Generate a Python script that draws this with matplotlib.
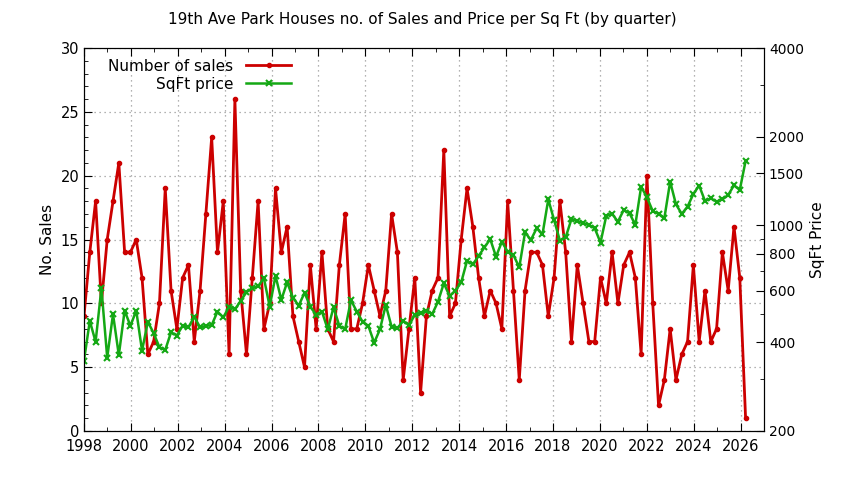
import numpy as np
import matplotlib
matplotlib.use("Agg")
import matplotlib.pyplot as plt
from matplotlib.ticker import FixedLocator, NullFormatter, MultipleLocator

sales = [9,14,18,10,15,18,21,14,14,15,12,6,7,10,19,11,8,12,13,7,11,17,23,14,18,6,26,11,6,12,18,
         8,10,19,14,16,9,7,5,13,8,14,8,7,13,17,8,8,10,13,11,9,11,17,14,4,8,12,3,
         9,11,12,22,9,10,15,19,16,12,9,11,10,8,18,11,4,11,14,14,13,9,12,18,14,7,13,10,7,7,
         12,10,14,10,13,14,12,6,20,10,2,4,8,4,6,7,13,7,11,7,8,14,11,16,12,1]
price = [347,473,402,611,355,499,362,513,455,513,375,470,430,385,377,433,422,456,450,489,450,455,458,509,486,529,518,553,593,611,620,
         661,529,673,558,640,568,533,590,529,496,509,443,526,455,443,557,509,470,455,399,443,536,452,446,473,458,496,505,
         513,499,550,635,575,600,640,757,736,787,841,897,782,879,813,792,719,946,891,977,931,1224,1042,887,910,1050,1033,1016,1003,977,
         873,1078,1093,1028,1127,1098,1003,1352,1244,1117,1093,1056,1406,1178,1093,1157,1277,1364,1209,1234,1203,1224,1267,1367,1318,1653]
start_year = 1998
quarter_step = 0.2475
years = start_year + np.arange(len(sales)) * quarter_step

red = "#cc0000"
green = "#14a814"

fig = plt.figure(figsize=(8.44, 4.80), dpi=100)
ax = fig.add_axes([84/844, 1-431/480, (764-84)/844, (431-48)/480])
ax2 = ax.twinx()

l1, = ax.plot(years, sales, color=red, lw=2, marker='o', ms=3, label="Number of sales")
l2, = ax2.plot(years, price, color=green, lw=1.8, marker='x', ms=4, mew=1.5, label="SqFt price")

ax.set_xlim(1998, 2027)
ax.set_ylim(0, 30)
ax.xaxis.set_major_locator(MultipleLocator(2))
ax.xaxis.set_minor_locator(MultipleLocator(1))
ax.yaxis.set_major_locator(MultipleLocator(5))
ax.yaxis.set_minor_locator(MultipleLocator(1))
ax.grid(True, which='major', color='#999999', linestyle=(0, (1, 3)), lw=0.9)
ax.tick_params(which='both', direction='in', top=True, labelsize=10.5)
ax.tick_params(axis='x', pad=6)
ax.tick_params(which='major', length=6)
ax.tick_params(which='minor', length=3)

ax2.set_yscale('log')
ax2.set_ylim(200, 4000)
ax2.yaxis.set_major_locator(FixedLocator([200, 400, 600, 800, 1000, 1500, 2000, 4000]))
ax2.yaxis.set_major_formatter(matplotlib.ticker.FuncFormatter(lambda v, p: f"{int(v)}"))
ax2.yaxis.set_minor_locator(FixedLocator([300, 500, 700, 900, 3000]))
ax2.yaxis.set_minor_formatter(NullFormatter())
ax2.tick_params(which='both', direction='in', labelsize=10)
ax2.tick_params(which='major', length=6)
ax2.tick_params(which='minor', length=3)

ax.set_ylabel("No. Sales", fontsize=11, labelpad=4)
ax2.set_ylabel("SqFt Price", fontsize=11, labelpad=4)
fig.suptitle("19th Ave Park Houses no. of Sales and Price per Sq Ft (by quarter)", y=0.975, fontsize=11)

leg = ax.legend([l1, l2], ["Number of sales", "SqFt price"], loc='upper left',
                bbox_to_anchor=(0.02, 1.0), frameon=False, markerfirst=False,
                fontsize=11, handlelength=3, borderaxespad=0.3, labelspacing=0.2)
leg._legend_box.align = "right"

fig.savefig("out.png", dpi=100)
